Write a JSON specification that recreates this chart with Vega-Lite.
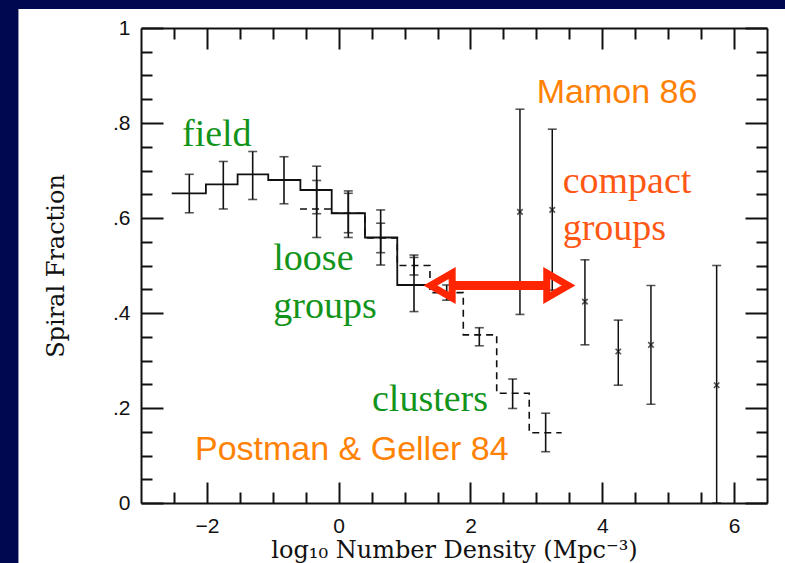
{
  "$schema": "https://vega.github.io/schema/vega-lite/v6.json",
  "width": 626,
  "height": 475,
  "autosize": {"type": "none"},
  "padding": {"left": 141, "top": 28, "right": 18, "bottom": 60},
  "background": "#00084f",
  "config": {
    "view": {"stroke": null},
    "axis": {"grid": false, "tickColor": "#111", "tickWidth": 2, "domainColor": "#111", "domainWidth": 2, "labelColor": "#111", "titleColor": "#111", "labelFont": "Liberation Sans", "labelFontSize": 21, "titleFont": "DejaVu Serif", "titleFontSize": 24, "titleFontWeight": "normal", "labelFlush": false, "labelOverlap": false}
  },
  "datasets": {
    "panel": [{"name": "panel"}],
    "solidStep": [
      {"x": -2.534, "y": 0.652}, {"x": -2.015, "y": 0.671}, {"x": -1.534, "y": 0.692}, {"x": -1.069, "y": 0.680},
      {"x": -0.581, "y": 0.659}, {"x": -0.106, "y": 0.610}, {"x": 0.399, "y": 0.559}, {"x": 0.889, "y": 0.459}, {"x": 1.385, "y": 0.459}
    ],
    "dashStep": [
      {"x": -0.587, "y": 0.619}, {"x": -0.106, "y": 0.610}, {"x": 0.399, "y": 0.558}, {"x": 0.889, "y": 0.500},
      {"x": 1.385, "y": 0.443}, {"x": 1.891, "y": 0.354}, {"x": 2.398, "y": 0.231}, {"x": 2.892, "y": 0.148}, {"x": 3.384, "y": 0.148}
    ],
    "solidErr": [
      {"x": -2.267, "lo": 0.611, "hi": 0.692}, {"x": -1.751, "lo": 0.619, "hi": 0.719}, {"x": -1.305, "lo": 0.639, "hi": 0.740},
      {"x": -0.830, "lo": 0.630, "hi": 0.729}, {"x": -0.334, "lo": 0.609, "hi": 0.709}, {"x": 0.146, "lo": 0.559, "hi": 0.657},
      {"x": 0.637, "lo": 0.501, "hi": 0.617}, {"x": 1.143, "lo": 0.403, "hi": 0.517}
    ],
    "dashErr": [
      {"x": -0.334, "lo": 0.559, "hi": 0.679}, {"x": 0.146, "lo": 0.569, "hi": 0.652}, {"x": 0.637, "lo": 0.527, "hi": 0.589},
      {"x": 1.143, "lo": 0.480, "hi": 0.522}, {"x": 1.639, "lo": 0.427, "hi": 0.459}, {"x": 2.134, "lo": 0.331, "hi": 0.369},
      {"x": 2.640, "lo": 0.199, "hi": 0.261}, {"x": 3.141, "lo": 0.108, "hi": 0.189}
    ],
    "mamon": [
      {"x": 2.751, "y": 0.613, "lo": 0.397, "hi": 0.829}, {"x": 3.241, "y": 0.617, "lo": 0.448, "hi": 0.787},
      {"x": 3.737, "y": 0.424, "lo": 0.333, "hi": 0.512}, {"x": 4.243, "y": 0.319, "lo": 0.248, "hi": 0.385},
      {"x": 4.739, "y": 0.333, "lo": 0.208, "hi": 0.458}, {"x": 5.736, "y": 0.248, "lo": 0.0, "hi": 0.500}
    ],
    "arrowShaft": [{"x": 1.713, "x2": 3.164, "y": 0.458}],
    "arrowHeads": [{"x": 1.558, "y": 0.458, "dir": "left"}, {"x": 3.322, "y": 0.458, "dir": "right"}],
    "greenText": [
      {"x": -2.378, "y": 0.752, "label": "field"}, {"x": -0.992, "y": 0.4905, "label": "loose"},
      {"x": -0.992, "y": 0.3895, "label": "groups"}, {"x": 0.505, "y": 0.1937, "label": "clusters"}
    ],
    "redText": [{"x": 3.399, "y": 0.652, "label": "compact"}, {"x": 3.399, "y": 0.5537, "label": "groups"}],
    "orangeText": [{"x": -2.181, "y": 0.0905, "label": "Postman & Geller 84"}, {"x": 3.005, "y": 0.8415, "label": "Mamon 86"}]
  },
  "layer": [
    {
      "data": {"name": "panel"},
      "mark": {"type": "rect", "fill": "white", "clip": false},
      "encoding": {
        "x": {"datum": -4.86, "type": "quantitative", "scale": {"domain": [-3, 6.5], "nice": false, "zero": false}, "axis": null},
        "x2": {"datum": 7.2},
        "y": {"datum": 1.04, "type": "quantitative", "scale": {"domain": [0, 1], "nice": false, "zero": false}, "axis": null},
        "y2": {"datum": -0.2}
      }
    },
    {
      "data": {"name": "solidStep"},
      "mark": {"type": "line", "interpolate": "step-after", "color": "#111", "strokeWidth": 1.8},
      "encoding": {
        "x": {"field": "x", "type": "quantitative", "scale": {"domain": [-3, 6.5], "nice": false, "zero": false},
          "axis": {"orient": "bottom", "zindex": 2, "values": [-2, 0, 2, 4, 6], "tickSize": -21, "labelPadding": 33, "domain": true, "title": "log₁₀ Number Density (Mpc⁻³)", "titlePadding": 2}},
        "y": {"field": "y", "type": "quantitative", "scale": {"domain": [0, 1], "nice": false, "zero": false},
          "axis": {"orient": "left", "zindex": 2, "values": [0, 0.2, 0.4, 0.6, 0.8, 1], "tickSize": -22, "labelPadding": 33, "domain": true,
            "labelExpr": "datum.value == 0 ? '0' : datum.value == 1 ? '1' : '.' + round(datum.value * 10)", "title": "Spiral Fraction", "titlePadding": 44}}
      }
    },
    {
      "data": {"name": "dashStep"},
      "mark": {"type": "line", "interpolate": "step-after", "color": "#111", "strokeWidth": 1.6, "strokeDash": [7, 5]},
      "encoding": {
        "x": {"field": "x", "type": "quantitative", "scale": {"domain": [-3, 6.5], "nice": false, "zero": false},
          "axis": {"orient": "bottom", "zindex": 2, "values": [-2.5, -1.5, -1, -0.5, 0.5, 1, 1.5, 2.5, 3, 3.5, 4.5, 5, 5.5], "tickSize": -11, "labels": false, "domain": false, "title": null}},
        "y": {"field": "y", "type": "quantitative", "scale": {"domain": [0, 1], "nice": false, "zero": false},
          "axis": {"orient": "left", "zindex": 2, "values": [0.05, 0.1, 0.15, 0.25, 0.3, 0.35, 0.45, 0.5, 0.55, 0.65, 0.7, 0.75, 0.85, 0.9, 0.95], "tickSize": -11, "labels": false, "domain": false, "title": null}}
      }
    },
    {
      "data": {"name": "solidErr"},
      "mark": {"type": "errorbar", "ticks": {"size": 9, "thickness": 1.6, "color": "#111"}, "rule": {"strokeWidth": 1.6, "color": "#111"}},
      "encoding": {
        "x": {"field": "x", "type": "quantitative", "scale": {"domain": [-3, 6.5], "nice": false, "zero": false},
          "axis": {"orient": "top", "zindex": 2, "values": [-2, 0, 2, 4, 6], "tickSize": -21, "labels": false, "domain": true, "title": null}},
        "y": {"field": "lo", "type": "quantitative", "scale": {"domain": [0, 1], "nice": false, "zero": false},
          "axis": {"orient": "right", "zindex": 2, "values": [0, 0.2, 0.4, 0.6, 0.8, 1], "tickSize": -22, "labels": false, "domain": true, "title": null}},
        "y2": {"field": "hi"}
      }
    },
    {
      "data": {"name": "dashErr"},
      "mark": {"type": "errorbar", "ticks": {"size": 9, "thickness": 1.6, "color": "#111"}, "rule": {"strokeWidth": 1.6, "color": "#111"}},
      "encoding": {
        "x": {"field": "x", "type": "quantitative", "scale": {"domain": [-3, 6.5], "nice": false, "zero": false},
          "axis": {"orient": "top", "zindex": 2, "values": [-2.5, -1.5, -1, -0.5, 0.5, 1, 1.5, 2.5, 3, 3.5, 4.5, 5, 5.5], "tickSize": -11, "labels": false, "domain": false, "title": null}},
        "y": {"field": "lo", "type": "quantitative", "scale": {"domain": [0, 1], "nice": false, "zero": false},
          "axis": {"orient": "right", "zindex": 2, "values": [0.05, 0.1, 0.15, 0.25, 0.3, 0.35, 0.45, 0.5, 0.55, 0.65, 0.7, 0.75, 0.85, 0.9, 0.95], "tickSize": -11, "labels": false, "domain": false, "title": null}},
        "y2": {"field": "hi"}
      }
    },
    {
      "data": {"name": "mamon"},
      "mark": {"type": "errorbar", "ticks": {"size": 9, "thickness": 1.6, "color": "#111"}, "rule": {"strokeWidth": 1.5, "color": "#111"}},
      "encoding": {
        "x": {"field": "x", "type": "quantitative", "scale": {"domain": [-3, 6.5], "nice": false, "zero": false}, "axis": null},
        "y": {"field": "lo", "type": "quantitative", "scale": {"domain": [0, 1], "nice": false, "zero": false}, "axis": null},
        "y2": {"field": "hi"}
      }
    },
    {
      "data": {"name": "mamon"},
      "mark": {"type": "point", "shape": "M-1,-1L1,1M-1,1L1,-1", "size": 30, "filled": false, "stroke": "#111", "strokeWidth": 1.6},
      "encoding": {
        "x": {"field": "x", "type": "quantitative", "scale": {"domain": [-3, 6.5], "nice": false, "zero": false}, "axis": null},
        "y": {"field": "y", "type": "quantitative", "scale": {"domain": [0, 1], "nice": false, "zero": false}, "axis": null}
      }
    },
    {
      "data": {"name": "arrowShaft"},
      "mark": {"type": "rule", "color": "#ff2500", "strokeWidth": 9, "strokeCap": "butt"},
      "encoding": {
        "x": {"field": "x", "type": "quantitative", "scale": {"domain": [-3, 6.5], "nice": false, "zero": false}, "axis": null},
        "x2": {"field": "x2"},
        "y": {"field": "y", "type": "quantitative", "scale": {"domain": [0, 1], "nice": false, "zero": false}, "axis": null}
      }
    },
    {
      "data": {"name": "arrowHeads"},
      "mark": {"type": "point", "filled": false, "stroke": "#ff2500", "strokeWidth": 7, "strokeJoin": "miter", "size": 625, "opacity": 1},
      "encoding": {
        "x": {"field": "x", "type": "quantitative", "scale": {"domain": [-3, 6.5], "nice": false, "zero": false}, "axis": null},
        "y": {"field": "y", "type": "quantitative", "scale": {"domain": [0, 1], "nice": false, "zero": false}, "axis": null},
        "shape": {"field": "dir", "type": "nominal", "scale": {"domain": ["left", "right"], "range": ["triangle-left", "triangle-right"]}, "legend": null}
      }
    },
    {
      "data": {"name": "greenText"},
      "mark": {"type": "text", "align": "left", "baseline": "alphabetic", "font": "Liberation Serif", "fontSize": 38, "color": "#12941a"},
      "encoding": {
        "x": {"field": "x", "type": "quantitative", "scale": {"domain": [-3, 6.5], "nice": false, "zero": false}, "axis": null},
        "y": {"field": "y", "type": "quantitative", "scale": {"domain": [0, 1], "nice": false, "zero": false}, "axis": null},
        "text": {"field": "label"}
      }
    },
    {
      "data": {"name": "redText"},
      "mark": {"type": "text", "align": "left", "baseline": "alphabetic", "font": "Liberation Serif", "fontSize": 38, "color": "#ff5714"},
      "encoding": {
        "x": {"field": "x", "type": "quantitative", "scale": {"domain": [-3, 6.5], "nice": false, "zero": false}, "axis": null},
        "y": {"field": "y", "type": "quantitative", "scale": {"domain": [0, 1], "nice": false, "zero": false}, "axis": null},
        "text": {"field": "label"}
      }
    },
    {
      "data": {"name": "orangeText"},
      "mark": {"type": "text", "align": "left", "baseline": "alphabetic", "font": "Liberation Sans", "fontSize": 34, "color": "#ff8205"},
      "encoding": {
        "x": {"field": "x", "type": "quantitative", "scale": {"domain": [-3, 6.5], "nice": false, "zero": false}, "axis": null},
        "y": {"field": "y", "type": "quantitative", "scale": {"domain": [0, 1], "nice": false, "zero": false}, "axis": null},
        "text": {"field": "label"}
      }
    }
  ],
  "resolve": {"axis": {"x": "independent", "y": "independent"}}
}
